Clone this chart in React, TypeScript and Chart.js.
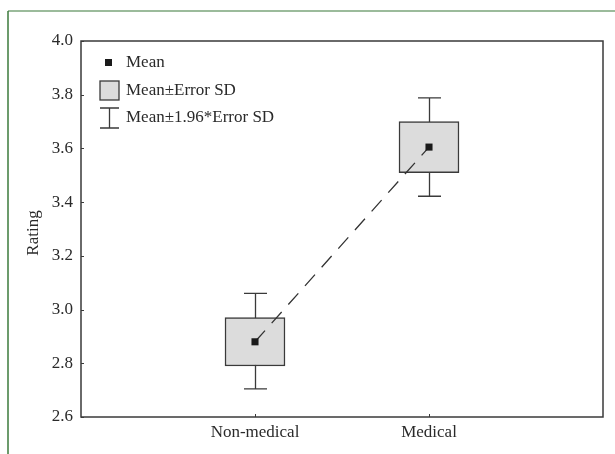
import React, { useEffect, useRef } from "react";
import { Chart, registerables } from "chart.js";

Chart.register(...registerables);

const categories = ["Non-medical", "Medical"];
const means = [2.88, 3.605];
const sdLow = [2.79, 3.51];
const sdHigh = [2.97, 3.7];
const ciLow = [2.705, 3.422];
const ciHigh = [3.06, 3.788];
const yMin = 2.6;
const yMax = 4.0;
const yStep = 0.2;
const legendLabels = ["Mean", "Mean±Error SD", "Mean±1.96*Error SD"];
const yTitle = "Rating";

const FONT = "'Liberation Serif', 'Times New Roman', serif";
const INK = "#2a2a2a";

const decorPlugin = {
  id: "decor",
  beforeDatasetsDraw(chart: any) {
    const { ctx, chartArea, scales } = chart;
    const x = scales.x;
    const y = scales.y;
    ctx.save();
    // green frame
    ctx.lineWidth = 1.5;
    ctx.strokeStyle = "#7aa57a";
    ctx.beginPath();
    ctx.moveTo(8, 11);
    ctx.lineTo(615, 11);
    ctx.stroke();
    ctx.strokeStyle = "#3b7a3b";
    ctx.beginPath();
    ctx.moveTo(8, 11);
    ctx.lineTo(8, 454);
    ctx.stroke();
    // plot frame
    ctx.strokeStyle = "#3a3a3a";
    ctx.lineWidth = 1.5;
    ctx.strokeRect(chartArea.left, chartArea.top, chartArea.right - chartArea.left, chartArea.bottom - chartArea.top);
    // inward ticks
    ctx.lineWidth = 1;
    y.ticks.forEach((t: any) => {
      const py = Math.round(y.getPixelForValue(t.value)) + 0.5;
      ctx.beginPath();
      ctx.moveTo(chartArea.left, py);
      ctx.lineTo(chartArea.left + 3, py);
      ctx.stroke();
    });
    x.ticks.forEach((t: any) => {
      const px = Math.round(x.getPixelForValue(t.value)) + 0.5;
      ctx.beginPath();
      ctx.moveTo(px, chartArea.bottom);
      ctx.lineTo(px, chartArea.bottom - 3);
      ctx.stroke();
    });
    // whiskers
    ctx.strokeStyle = "#3a3a3a";
    ctx.lineWidth = 1.3;
    categories.forEach((_, i) => {
      const px = Math.round(x.getPixelForValue(i)) + 0.5;
      const top = y.getPixelForValue(ciHigh[i]);
      const bot = y.getPixelForValue(ciLow[i]);
      ctx.beginPath();
      ctx.moveTo(px, top);
      ctx.lineTo(px, bot);
      ctx.moveTo(px - 11.5, top);
      ctx.lineTo(px + 11.5, top);
      ctx.moveTo(px - 11.5, bot);
      ctx.lineTo(px + 11.5, bot);
      ctx.stroke();
    });
    ctx.restore();
  },
  afterDraw(chart: any) {
    const { ctx } = chart;
    ctx.save();
    // y title
    ctx.fillStyle = INK;
    ctx.font = `17px ${FONT}`;
    ctx.textAlign = "center";
    ctx.textBaseline = "middle";
    ctx.translate(34, 233);
    ctx.rotate(-Math.PI / 2);
    ctx.fillText(yTitle, 0, 0);
    ctx.restore();

    ctx.save();
    // legend
    ctx.font = `17px ${FONT}`;
    ctx.textAlign = "left";
    ctx.textBaseline = "middle";
    ctx.fillStyle = "#1a1a1a";
    ctx.fillRect(105, 59, 7, 7);
    ctx.fillStyle = "#dcdcdc";
    ctx.fillRect(100, 81, 19, 19);
    ctx.strokeStyle = "#3a3a3a";
    ctx.lineWidth = 1.3;
    ctx.strokeRect(100, 81, 19, 19);
    ctx.beginPath();
    ctx.moveTo(109.5, 108);
    ctx.lineTo(109.5, 128);
    ctx.moveTo(100, 108);
    ctx.lineTo(119, 108);
    ctx.moveTo(100, 128);
    ctx.lineTo(119, 128);
    ctx.stroke();
    ctx.fillStyle = INK;
    ctx.fillText(legendLabels[0], 126, 63);
    ctx.fillText(legendLabels[1], 126, 91);
    ctx.fillText(legendLabels[2], 126, 118);
    ctx.restore();
  },
};

export default function App() {
  const ref = useRef<HTMLCanvasElement>(null);
  useEffect(() => {
    if (!ref.current) return;
    const chart = new Chart(ref.current, {
      type: "bar",
      data: {
        datasets: [
          {
            type: "line",
            data: categories.map((_, i) => ({ x: i, y: means[i] })),
            borderColor: "#333",
            borderWidth: 1.3,
            borderDash: [15, 10],
            pointStyle: "rect",
            pointRadius: 5,
            pointBackgroundColor: "#1a1a1a",
            pointBorderWidth: 0,
            order: 0,
          } as any,
          {
            type: "bar",
            data: categories.map((_, i) => ({ x: i, y: [sdLow[i], sdHigh[i]] })),
            backgroundColor: "#dcdcdc",
            borderColor: "#3a3a3a",
            borderWidth: 1.5,
            borderSkipped: false,
            barThickness: 60,
            order: 1,
          } as any,
        ],
      },
      options: {
        responsive: false,
        animation: false,
        layout: { padding: { left: 0, top: 41, right: 12, bottom: 0 } },
        plugins: { legend: { display: false }, tooltip: { enabled: false } },
        scales: {
          x: {
            type: "linear",
            min: -1,
            max: 2,
            offset: false,
            grid: { display: false, drawTicks: false, offset: false },
            border: { display: false },
            afterBuildTicks: (axis: any) => {
              axis.ticks = categories.map((_, i) => ({ value: i }));
            },
            afterFit: (axis: any) => {
              axis.height = 37;
            },
            ticks: {
              padding: 5,
              color: INK,
              font: { family: FONT, size: 17 },
              autoSkip: false,
              maxRotation: 0,
              callback: (v: any) => categories[v] ?? "",
            },
          },
          y: {
            type: "linear",
            min: yMin,
            max: yMax,
            grid: { display: false, drawTicks: false },
            border: { display: false },
            afterFit: (axis: any) => {
              axis.width = 81;
            },
            ticks: {
              stepSize: yStep,
              padding: 8,
              color: INK,
              font: { family: FONT, size: 17 },
              callback: (v: any) => Number(v).toFixed(1),
            },
          },
        },
      } as any,
      plugins: [decorPlugin],
    });
    return () => chart.destroy();
  }, []);
  return (
    <div style={{ position: "absolute", left: 0, top: 0, width: 615, height: 454, background: "#fff" }}>
      <canvas ref={ref} width={615} height={454} style={{ display: "block" }} />
    </div>
  );
}
